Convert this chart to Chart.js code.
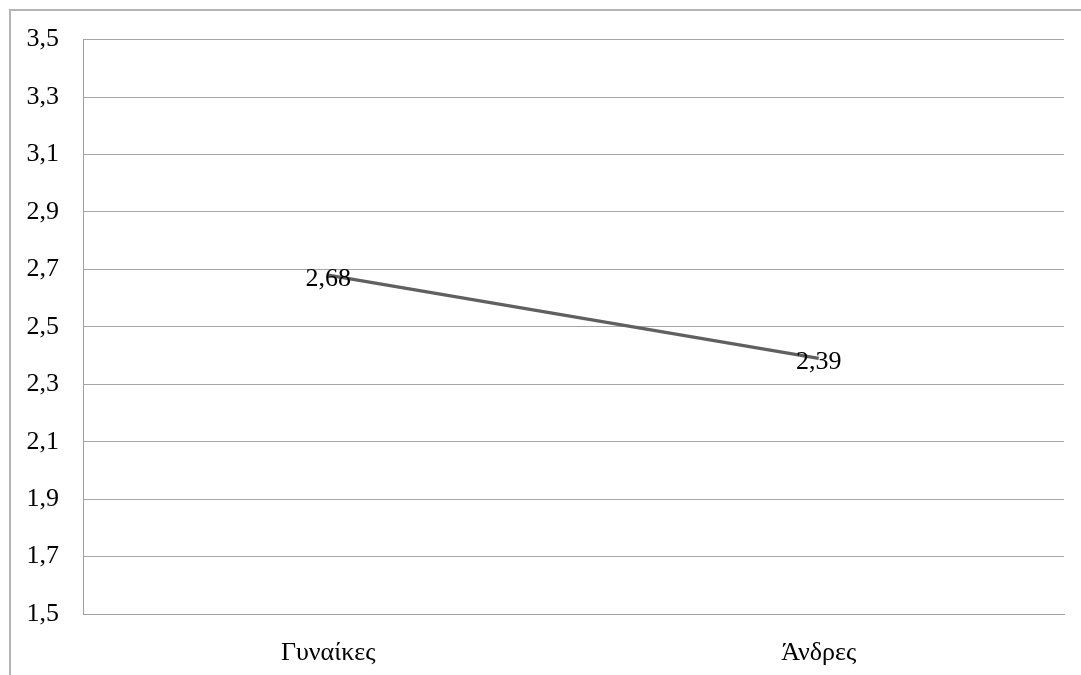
<!DOCTYPE html>
<html>
<head>
<meta charset="utf-8">
<script src="https://cdn.jsdelivr.net/npm/chart.js@4.4.0/dist/chart.umd.min.js"></script>
<style>
	html, body { margin: 0; padding: 0; background: #fff; }
	#wrap { position: relative; width: 1081px; height: 675px; overflow: hidden; }
	#frame { position: absolute; left: 9px; top: 9px; width: 1200px; height: 800px; border: 2px solid #b4b4b4; box-sizing: border-box; }
	canvas { position: absolute; left: 0; top: 0; }
</style>
</head>
<body>
<div id="wrap">
	<div id="frame"></div>
	<canvas id="lineChart" width="1081" height="675"></canvas>
</div>
<script>
// Chart data
const categories = ["Γυναίκες", "Άνδρες"];
const meanValues = [2.68, 2.39];
const yMin = 1.5;
const yMax = 3.5;
const yStep = 0.2;

const serif = "'Liberation Serif', 'DejaVu Serif', serif";

function fmt(v){
	return v.toFixed(2).replace(".", ",");
}

// Draw value labels centered on the points
const valueLabels = {
	id: "valueLabels",
	afterDatasetsDraw(chart){
		const ctx = chart.ctx;
		const meta = chart.getDatasetMeta(0);
		ctx.save();
		ctx.font = "26px " + serif;
		ctx.fillStyle = "#000";
		ctx.textAlign = "center";
		ctx.textBaseline = "middle";
		meta.data.forEach((pt, i) => {
			ctx.fillText(fmt(meanValues[i]), pt.x, pt.y + 4);
		});
		ctx.restore();
	}
};

const ctx = document.getElementById("lineChart").getContext("2d");
new Chart(ctx, {
	type: "line",
	data: {
		labels: categories,
		datasets: [{
			data: meanValues,
			borderColor: "#606060",
			borderWidth: 3.5,
			pointRadius: 0,
			tension: 0
		}]
	},
	options: {
		responsive: false,
		animation: false,
		layout: { padding: { left: 0, top: 39, right: 17, bottom: 0 } },
		plugins: {
			legend: { display: false },
			tooltip: { enabled: false }
		},
		scales: {
			x: {
				offset: true,
				grid: { display: false, drawTicks: false },
				border: { color: "#a0a0a0", width: 1 },
				ticks: { color: "#000", font: { family: serif, size: 26 }, padding: 24 },
				afterFit(scale){ scale.height = 61; }
			},
			y: {
				min: yMin,
				max: yMax,
				grid: { color: "#a6a6a6", lineWidth: 1, drawTicks: false },
				border: { color: "#a0a0a0", width: 1 },
				ticks: {
					stepSize: yStep,
					color: "#000",
					font: { family: serif, size: 26 },
					padding: 24,
					callback: v => (Math.round(v * 10) / 10).toFixed(1).replace(".", ",")
				},
				afterFit(scale){ scale.width = 83; }
			}
		}
	},
	plugins: [valueLabels]
});
</script>
</body>
</html>
